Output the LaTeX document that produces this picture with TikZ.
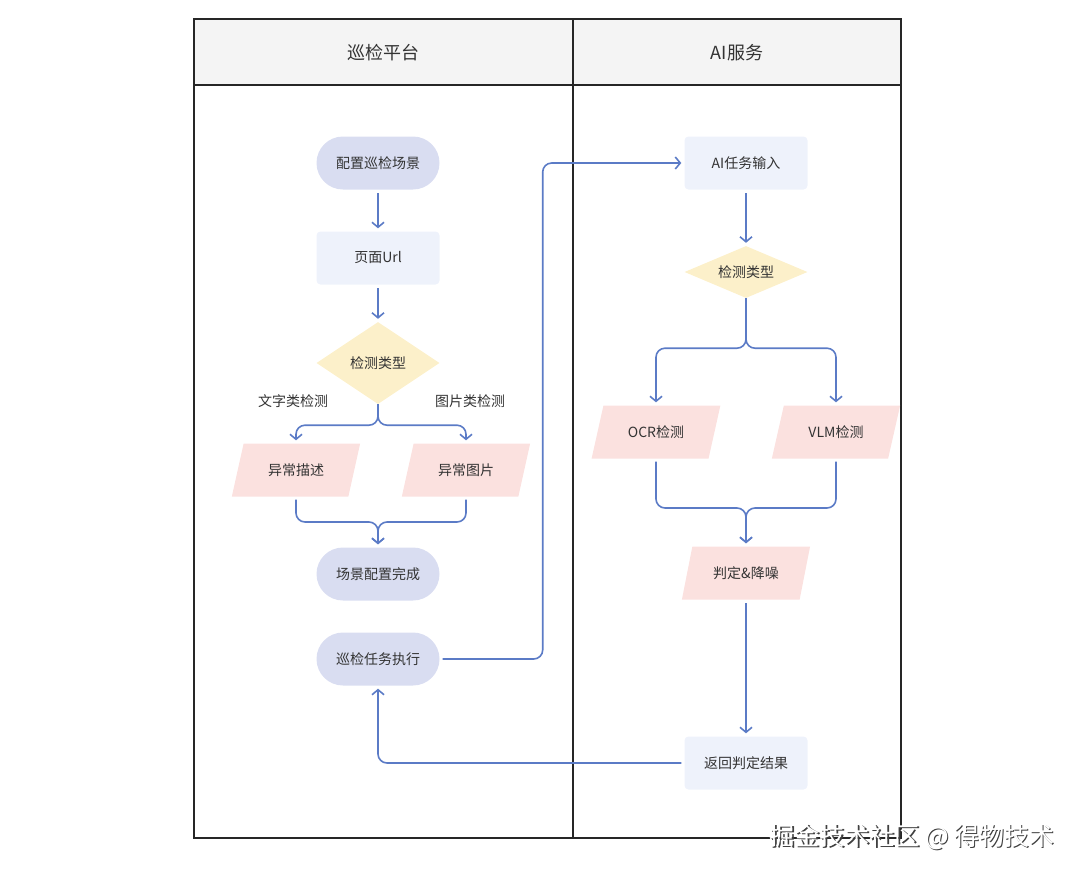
\documentclass[tikz,border=0pt]{standalone}
\usepackage{fontspec}
\setmainfont{Noto Sans CJK SC}
\usetikzlibrary{arrows.meta,positioning,shapes.geometric}
\definecolor{lineblue}{HTML}{5B7BC6}
\definecolor{stadfill}{HTML}{D9DDF1}
\definecolor{boxfill}{HTML}{EEF2FB}
\definecolor{dicefill}{HTML}{FCF0CA}
\definecolor{datafill}{HTML}{FBE1DF}
\definecolor{headfill}{HTML}{F4F4F4}
\definecolor{txt}{HTML}{333333}
\tikzset{
    %Define standard arrow tip
    >={Straight Barb[length=5pt,width=12pt,line width=1.6pt]},
    x=1pt, y=-1pt,
    base/.style={
      text=txt,
      font=\fontsize{14}{16}\selectfont,
      inner sep=0pt,
      text centered},
    stadium/.style={
      base,
      rectangle,
      rounded corners=26.5pt,
      fill=stadfill,
      minimum width=123pt,
      minimum height=53pt},
    boxnode/.style={
      base,
      rectangle,
      rounded corners=4pt,
      fill=boxfill,
      minimum width=123pt,
      minimum height=53pt},
    dice/.style={
      base,
      diamond,
      fill=dicefill,
      minimum width=123pt},
    datanode/.style={
      base,
      trapezium,
      trapezium left angle=64,
      trapezium right angle=116,
      trapezium stretches=true,
      fill=datafill,
      minimum width=129pt,
      minimum height=53pt},
    tag/.style={
      text=txt,
      font=\fontsize{14}{16}\selectfont,
      inner sep=0pt},
    flow/.style={
      ->,
      draw=lineblue,
      line width=1.6pt,
      rounded corners=9pt,
      shorten >=3pt,
      shorten <=3pt},
}
\begin{document}
\begin{tikzpicture}
    \useasboundingbox (0,0) rectangle (1080,876);
    % lanes
    \fill [headfill] (194,19) rectangle (901,85);
    \draw [line width=1.8pt, draw=black!85] (194,19) rectangle (901,838);
    \draw [line width=1.8pt, draw=black!85] (194,85) -- (901,85);
    \draw [line width=1.8pt, draw=black!85] (573,19) -- (573,838);
    \node (laneL) [tag, font=\fontsize{18}{20}\selectfont] at (383,53)
          {巡检平台};
    \node (laneR) [tag, font=\fontsize{18}{20}\selectfont] at (737,53)
          {AI服务};
    % left lane
    \node (cfg) [stadium] at (378,163)
          {配置巡检场景};
    \node (url) [boxnode] at (378,258)
          {页面Url}
          edge [flow, <-] (cfg);
    \node (kind) [dice, aspect=1.5, minimum height=82pt] at (378,363)
          {检测类型}
          edge [flow, <-] (url);
    \node (txtlbl) [tag] at (293,401)
          {文字类检测};
    \node (imglbl) [tag] at (470,401)
          {图片类检测};
    \node (desc) [datanode] at (296,470)
          {异常描述};
    \node (pic) [datanode] at (466,470)
          {异常图片};
    \node (done) [stadium] at (378,574)
          {场景配置完成};
    \node (run) [stadium] at (378,659)
          {巡检任务执行};
    \draw [flow, shorten <=0pt] (kind.south) -- ++(0,21) -| (desc.north);
    \draw [flow, shorten <=0pt] (kind.south) -- ++(0,21) -| (pic.north);
    \draw [flow] (desc.south) |- (378,522) -- (done.north);
    \draw [flow] (pic.south) |- (378,522) -- (done.north);
    % right lane
    \node (aiin) [boxnode] at (746,163)
          {AI任务输入};
    \node (kind2) [dice, aspect=2.4, minimum height=52pt] at (746,272)
          {检测类型}
          edge [flow, <-] (aiin);
    \node (ocr) [datanode] at (656,432)
          {OCR检测};
    \node (vlm) [datanode] at (836,432)
          {VLM检测};
    \node (judge) [datanode] at (746,573)
          {判定\&降噪};
    \node (res) [boxnode] at (746,763)
          {返回判定结果}
          edge [flow, <-] (judge);
    \draw [flow, shorten <=0pt] (kind2.south) -- ++(0,50) -| (ocr.north);
    \draw [flow, shorten <=0pt] (kind2.south) -- ++(0,50) -| (vlm.north);
    \draw [flow] (ocr.south) |- (746,508) -- (judge.north);
    \draw [flow] (vlm.south) |- (746,508) -- (judge.north);
    % across lanes
    \draw [flow] (run.east) -- ++(103,0) |- (aiin.west);
    \draw [flow] (res.west) -| (run.south);
    % watermark
    \node (markshadow) [font=\fontsize{25}{27}\selectfont, text=black!75] at (913.5,838.5)
          {掘金技术社区 @ 得物技术};
    \node (mark) [font=\fontsize{25}{27}\selectfont, text=white] at (912,837)
          {掘金技术社区 @ 得物技术};
\end{tikzpicture}
\end{document}
